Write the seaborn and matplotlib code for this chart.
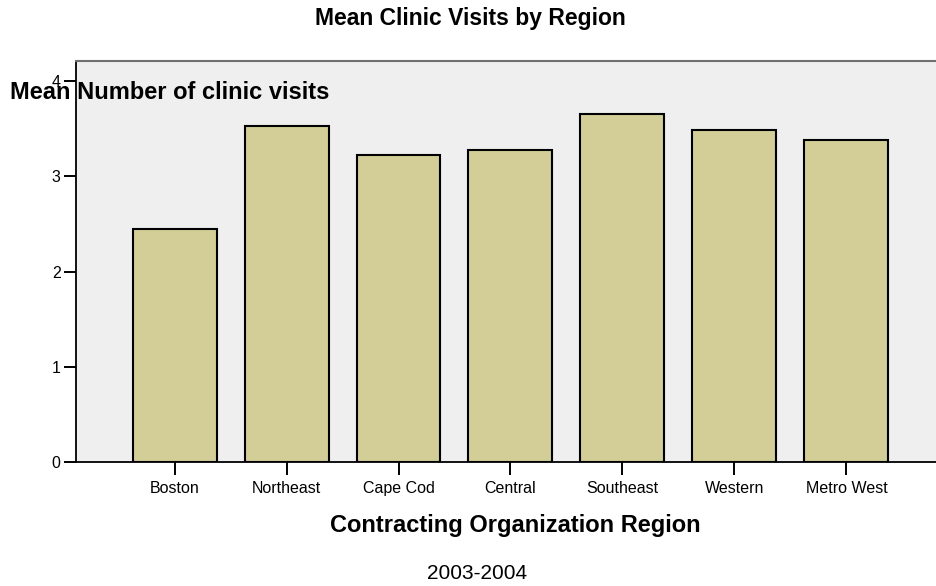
import matplotlib
matplotlib.use("Agg")
import matplotlib.pyplot as plt
import seaborn as sns
import pandas as pd

# -------------------------------
# Data
# -------------------------------
regions = ["Boston", "Northeast", "Cape Cod", "Central", "Southeast", "Western", "Metro West"]
mean_visits = [2.45, 3.53, 3.22, 3.28, 3.65, 3.49, 3.38]
y_ticks = [0, 1, 2, 3, 4]

df = pd.DataFrame({"region": regions, "visits": mean_visits})

sns.set_style("white")
plt.rcParams["font.family"] = ["Liberation Sans", "DejaVu Sans"]
plt.rcParams["text.color"] = "black"

fig = plt.figure(figsize=(9.36, 5.86), dpi=100)
ax = fig.add_axes([0.0812, 0.2116, 0.9188, 0.6843])
ax.set_facecolor("#EFEFEF")

sns.barplot(data=df, x="region", y="visits", color="#D3CE97", width=0.75,
            edgecolor="black", linewidth=1.5, saturation=1, ax=ax)

ax.set_xlim(-0.88, 6.8)
ax.set_ylim(0, 4.21)
ax.set_yticks(y_ticks)
ax.set_xlabel("")
ax.set_ylabel("")

for side in ["left", "bottom"]:
    ax.spines[side].set_color("black")
    ax.spines[side].set_linewidth(1.3)
ax.spines["top"].set_color("#707070")
ax.spines["top"].set_linewidth(1.5)
ax.spines["right"].set_visible(False)

ax.tick_params(axis="both", which="major", direction="out", length=9, width=1.4,
               colors="black", labelcolor="black", labelsize=11.5, pad=2,
               left=True, bottom=True)
ax.tick_params(axis="x", pad=5)

fig.text(0.503, 0.968, "Mean Clinic Visits by Region", ha="center", va="center",
         fontsize=16.5, fontweight="bold")
fig.text(0.0107, 0.843, "Mean Number of clinic visits", ha="left", va="center",
         fontsize=17, fontweight="bold")
fig.text(0.551, 0.104, "Contracting Organization Region", ha="center", va="center",
         fontsize=17, fontweight="bold")
fig.text(0.51, 0.022, "2003-2004", ha="center", va="center", fontsize=15)

fig.savefig("out.png", dpi=100)
